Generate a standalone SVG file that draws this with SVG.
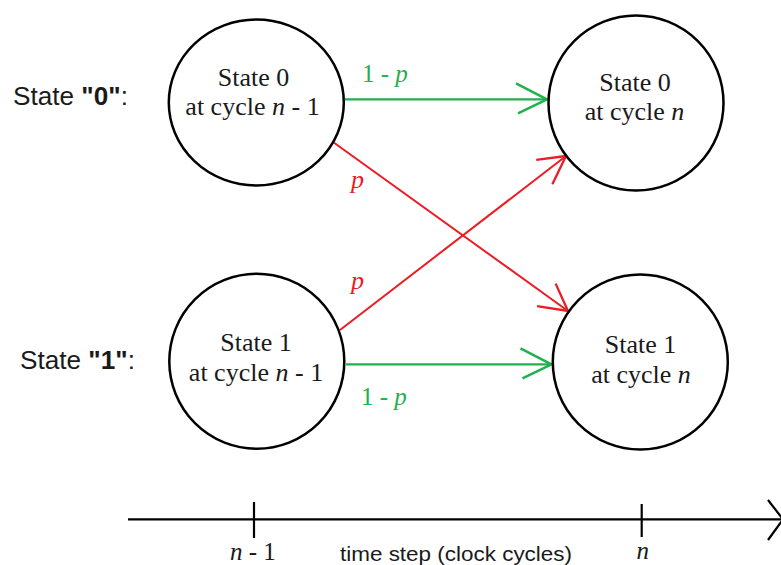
<svg xmlns="http://www.w3.org/2000/svg" width="781" height="565" viewBox="0 0 781 565">
  <style>
    .node { fill: #ffffff; stroke: #000000; stroke-width: 2.5; }
    .ntext { font-family: "Liberation Serif", "Times New Roman", serif; font-size: 26px; fill: #1a1a1a; text-anchor: middle; }
    .side { font-family: "Liberation Sans", Arial, sans-serif; font-size: 25px; fill: #1a1a1a; }
    .green { stroke: #1fb14b; stroke-width: 2.2; fill: none; }
    .red { stroke: #ec1c24; stroke-width: 2; fill: none; }
    .glabel { font-family: "Liberation Serif", "Times New Roman", serif; font-size: 25px; fill: #1fb14b; }
    .rlabel { font-family: "Liberation Serif", "Times New Roman", serif; font-size: 26px; fill: #ec1c24; font-style: italic; }
    .axis { stroke: #000000; stroke-width: 2.2; fill: none; }
    .axtext { font-family: "Liberation Serif", "Times New Roman", serif; font-size: 25px; fill: #1a1a1a; }
    .axcap { font-family: "Liberation Sans", Arial, sans-serif; font-size: 20px; fill: #1a1a1a; }
  </style>
  <defs>
    <marker id="arrowGreen" markerUnits="userSpaceOnUse" viewBox="-34 -19 36 38" markerWidth="36" markerHeight="38" refX="0" refY="0" orient="auto">
      <path d="M-31,-16 L0,0 L-29,14" fill="none" stroke="#1fb14b" stroke-width="2.5"/>
    </marker>
    <marker id="arrowRed" markerUnits="userSpaceOnUse" viewBox="-34 -19 36 38" markerWidth="36" markerHeight="38" refX="0" refY="0" orient="auto">
      <path d="M-26,-15 L0,0 L-28,14" fill="none" stroke="#ec1c24" stroke-width="2.3"/>
    </marker>
  </defs>

  <!-- row labels -->
  <text class="side" x="13" y="105" textLength="115" lengthAdjust="spacingAndGlyphs">State <tspan font-weight="bold">"0"</tspan>:</text>
  <text class="side" x="20" y="369" textLength="115" lengthAdjust="spacingAndGlyphs">State <tspan font-weight="bold">"1"</tspan>:</text>

  <!-- transitions -->
  <g id="connectors">
    <line class="green" x1="345" y1="99.3" x2="547" y2="99.3" marker-end="url(#arrowGreen)"/>
    <line class="green" x1="346" y1="364.3" x2="551.5" y2="364.3" marker-end="url(#arrowGreen)"/>
    <line class="red" x1="333" y1="142" x2="568" y2="311" marker-end="url(#arrowRed)"/>
    <line class="red" x1="340" y1="330" x2="566" y2="156" marker-end="url(#arrowRed)"/>
    <text class="glabel" x="362" y="82">1 - <tspan font-style="italic">p</tspan></text>
    <text class="glabel" x="361" y="405">1 - <tspan font-style="italic">p</tspan></text>
    <text class="rlabel" x="351" y="188">p</text>
    <text class="rlabel" x="351" y="289">p</text>
  </g>

  <g id="s0-prev">
    <ellipse class="node" cx="256.3" cy="102.5" rx="87.5" ry="83"/>
    <text class="ntext" x="253.5" y="86">State 0</text>
    <text class="ntext" x="252.5" y="115">at cycle <tspan font-style="italic">n</tspan> - 1</text>
  </g>
  <g id="s0-cur">
    <circle class="node" cx="636" cy="103" r="87.5"/>
    <text class="ntext" x="635" y="90.5">State 0</text>
    <text class="ntext" x="634.5" y="119.5">at cycle <tspan font-style="italic">n</tspan></text>
  </g>
  <g id="s1-prev">
    <circle class="node" cx="256.8" cy="361.3" r="87.5"/>
    <text class="ntext" x="256" y="351">State 1</text>
    <text class="ntext" x="256" y="380.5">at cycle <tspan font-style="italic">n</tspan> - 1</text>
  </g>
  <g id="s1-cur">
    <circle class="node" cx="640.3" cy="362" r="87.5"/>
    <text class="ntext" x="640.5" y="353.3">State 1</text>
    <text class="ntext" x="641" y="382.7">at cycle <tspan font-style="italic">n</tspan></text>
  </g>

  <!-- time axis -->
  <g id="time-axis">
    <line class="axis" x1="128" y1="519.3" x2="782" y2="519.3"/>
    <path class="axis" d="M768,500 L783,519.3 L768,540"/>
    <line class="axis" x1="254" y1="502" x2="254" y2="538"/>
    <line class="axis" x1="641.7" y1="504" x2="641.7" y2="537"/>
    <text class="axtext" x="230" y="560"><tspan font-style="italic">n</tspan> - 1</text>
    <text class="axtext" x="636.5" y="559" font-style="italic">n</text>
    <text class="axcap" x="340" y="561" textLength="232" lengthAdjust="spacingAndGlyphs">time step (clock cycles)</text>
  </g>
</svg>
